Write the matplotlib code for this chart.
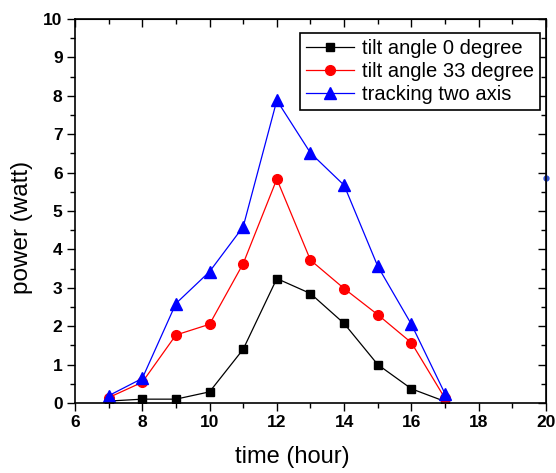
import matplotlib
matplotlib.use("Agg")
import matplotlib.pyplot as plt
from matplotlib.ticker import MultipleLocator

hours = [7, 8, 9, 10, 11, 12, 13, 14, 15, 16, 17]
tilt0 = [0.05, 0.10, 0.10, 0.29, 1.40, 3.24, 2.85, 2.07, 1.00, 0.37, 0.04]
tilt33 = [0.14, 0.54, 1.77, 2.05, 3.63, 5.83, 3.72, 2.98, 2.30, 1.57, 0.12]
tracking = [0.19, 0.64, 2.59, 3.42, 4.59, 7.88, 6.51, 5.67, 3.56, 2.05, 0.24]
stray_x = [20]
stray_y = [5.85]

plt.rcParams['font.family'] = ['Liberation Sans', 'DejaVu Sans']

fig = plt.figure(figsize=(5.56, 4.73), dpi=100)
ax = fig.add_axes([0.1349, 0.148, 0.847, 0.812])

ax.plot(hours, tilt0, color='black', marker='s', markersize=6, linewidth=0.9,
        label='tilt angle 0 degree')
ax.plot(hours, tilt33, color='red', marker='o', markersize=7, linewidth=0.9,
        label='tilt angle 33 degree')
ax.plot(hours, tracking, color='blue', marker='^', markersize=8, linewidth=0.9,
        label='tracking two axis')
ax.plot(stray_x, stray_y, linestyle='none', marker='o', markersize=3.5,
        color='#3050d0', clip_on=False)

ax.set_xlim(6, 20)
ax.set_ylim(0, 10)
ax.xaxis.set_major_locator(MultipleLocator(2))
ax.xaxis.set_minor_locator(MultipleLocator(1))
ax.yaxis.set_major_locator(MultipleLocator(1))
ax.yaxis.set_minor_locator(MultipleLocator(0.5))

ax.tick_params(which='both', direction='out', top=False, right=False)
ax.tick_params(which='major', length=5.5, width=1)
ax.tick_params(which='minor', length=3.5, width=1)
for lab in ax.get_xticklabels() + ax.get_yticklabels():
    lab.set_fontweight('bold')
    lab.set_fontsize(12.5)

# mirrored inward ticks on top and right
axt = ax.secondary_xaxis('top')
axt.xaxis.set_major_locator(MultipleLocator(2))
axt.xaxis.set_minor_locator(MultipleLocator(1))
axt.tick_params(which='both', direction='in', labeltop=False)
axt.tick_params(which='major', length=5.5, width=1)
axt.tick_params(which='minor', length=3.5, width=1)
axr = ax.secondary_yaxis('right')
axr.yaxis.set_major_locator(MultipleLocator(1))
axr.yaxis.set_minor_locator(MultipleLocator(0.5))
axr.tick_params(which='both', direction='in', labelright=False)
axr.tick_params(which='major', length=5.5, width=1)
axr.tick_params(which='minor', length=3.5, width=1)

for s in ax.spines.values():
    s.set_linewidth(1.2)

ax.set_xlabel('time (hour)', fontsize=17)
ax.set_ylabel('power (watt)', fontsize=17.5)
ax.xaxis.set_label_coords(0.461, -0.113)
ax.yaxis.set_label_coords(-0.09, 0.456)

leg = ax.legend(loc='upper right', bbox_to_anchor=(0.995, 0.975), fontsize=14.5,
                fancybox=False, edgecolor='black', framealpha=1,
                handlelength=2.4, borderpad=0.3, labelspacing=0.22,
                handletextpad=0.35, borderaxespad=0.2)
leg.get_frame().set_linewidth(1.2)

fig.savefig('out.png', dpi=100)
